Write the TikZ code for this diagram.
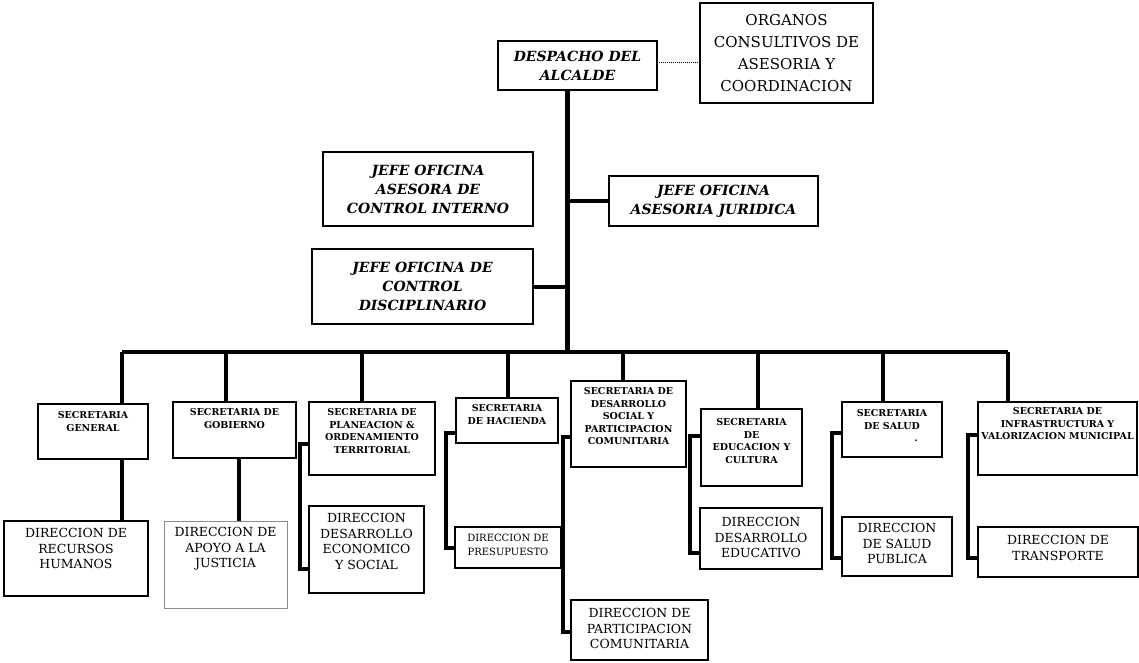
\documentclass[tikz,border=0pt]{standalone}
\usepackage{fontspec}
\setmainfont{DejaVu Serif}
\newcommand{\tbox}[4]{\parbox[c][#2pt][t]{#1pt}{\centering\vspace*{#3pt}#4\par}}
\newcommand{\cbox}[3]{\parbox[c][#2pt][c]{#1pt}{\centering #3\par}}
\newcommand{\secf}{\fontsize{9.5}{12.6}\selectfont\bfseries}
\newcommand{\dirf}{\fontsize{12.5}{15.5}\selectfont}
\newcommand{\jefef}{\fontsize{14}{19}\selectfont\bfseries\itshape}
\newcommand{\orgf}{\fontsize{15}{22}\selectfont}
\begin{document}
\begin{tikzpicture}[x=1pt,y=-1pt,
  box/.style={draw, line width=1.6pt, inner sep=0pt, outer sep=0pt},
  lightbox/.style={draw=black!45, line width=0.9pt, inner sep=0pt, outer sep=0pt},
  conn/.style={line width=4pt, line join=miter},
  trunk/.style={line width=5pt},
  dots/.style={line width=1pt, densely dotted}]
\useasboundingbox (0,0) rectangle (1139,662);

% top
\node[box] (despacho) at (577.5,65.5) {\cbox{159}{49}{\jefef DESPACHO DEL\\ALCALDE}};
\node[box] (organos) at (786.5,53) {\cbox{173}{100}{\orgf ORGANOS\\CONSULTIVOS DE\\ASESORIA Y\\COORDINACION}};
\node[box] (interno) at (428,189) {\cbox{210}{74}{\jefef JEFE OFICINA\\ASESORA DE\\CONTROL INTERNO}};
\node[box] (juridica) at (713.5,201) {\cbox{209}{50}{\jefef JEFE OFICINA\\ASESORIA JURIDICA}};
\node[box] (disciplinario) at (422.5,286.5) {\cbox{221}{75}{\jefef JEFE OFICINA DE\\CONTROL\\DISCIPLINARIO}};

% secretarias
\node[box] (secgeneral) at (93,431.5) {\tbox{110}{55}{7.5}{\secf SECRETARIA\\GENERAL}};
\node[box] (secgobierno) at (234.5,430) {\tbox{123}{56}{6.5}{\secf SECRETARIA DE\\GOBIERNO}};
\node[box] (secplaneacion) at (372,438.5) {\tbox{126}{73}{6.5}{\secf SECRETARIA DE\\PLANEACION \&\\ORDENAMIENTO\\TERRITORIAL}};
\node[box] (sechacienda) at (507,420.5) {\tbox{102}{45}{6.5}{\secf SECRETARIA\\DE HACIENDA}};
\node[box] (secdesarrollo) at (628.5,424) {\tbox{115}{86}{6.5}{\secf SECRETARIA DE\\DESARROLLO\\SOCIAL Y\\PARTICIPACION\\COMUNITARIA}};
\node[box] (seceducacion) at (751.5,447.5) {\tbox{101}{77}{9.5}{\secf SECRETARIA\\DE\\EDUCACION Y\\CULTURA}};
\node[box] (secsalud) at (892,429.5) {\tbox{100}{55}{7.5}{\secf SECRETARIA\\DE SALUD\\\hspace*{48pt}.}};
\node[box] (secinfra) at (1057.5,438.5) {\tbox{159}{73}{5.5}{\secf SECRETARIA DE\\INFRASTRUCTURA Y\\VALORIZACION MUNICIPAL}};

% direcciones
\node[box] (dirrrhh) at (76,558.5) {\tbox{144}{75}{7.5}{\dirf DIRECCION DE\\RECURSOS\\HUMANOS}};
\node[lightbox] (dirjusticia) at (225.5,564.5) {\tbox{123}{87}{6.5}{\dirf DIRECCION DE\\APOYO A LA\\JUSTICIA}};
\node[box] (direconomico) at (366.5,549.5) {\tbox{115}{87}{7.5}{\dirf DIRECCION\\DESARROLLO\\ECONOMICO\\Y SOCIAL}};
\node[box] (dirpresupuesto) at (508,547.5) {\tbox{106}{41}{7.4}{\fontsize{10}{14}\selectfont DIRECCION DE\\PRESUPUESTO}};
\node[box] (dirparticipacion) at (639.5,630) {\tbox{137}{60}{8.5}{\dirf DIRECCION DE\\PARTICIPACION\\COMUNITARIA}};
\node[box] (direducativo) at (761,538.5) {\tbox{122}{61}{9.5}{\dirf DIRECCION\\DESARROLLO\\EDUCATIVO}};
\node[box] (dirsalud) at (897,546.5) {\tbox{110}{59}{6.5}{\dirf DIRECCION\\DE SALUD\\PUBLICA}};
\node[box] (dirtransporte) at (1058,552) {\tbox{160}{50}{8.5}{\dirf DIRECCION DE\\TRANSPORTE}};

% bus coordinates
\coordinate (tk) at (567,352);
\coordinate (b1) at (122,352);
\coordinate (b2) at (226,352);
\coordinate (b3) at (362,352);
\coordinate (b4) at (508,352);
\coordinate (b5) at (623,352);
\coordinate (b6) at (758,352);
\coordinate (b7) at (883,352);
\coordinate (b8) at (1008,352);
\coordinate (g2) at (239,0);

% trunk and side links
\draw[trunk] (despacho.south -| tk) -- (tk);
\draw[dots] ([yshift=3.5pt]despacho.east) -- ([yshift=3.5pt]despacho.east -| organos.west);
\draw[conn] (juridica.west -| tk) -- (juridica.west);
\draw[conn] (disciplinario.east -| tk) -- (disciplinario.east);

% bus
\draw[conn] (b1) -- (b8);
\draw[conn] (b1) -- (b1 |- secgeneral.north);
\draw[conn] (b2) -- (b2 |- secgobierno.north);
\draw[conn] (b3) -- (b3 |- secplaneacion.north);
\draw[conn] (b4) -- (b4 |- sechacienda.north);
\draw[conn] (b5) -- (b5 |- secdesarrollo.north);
\draw[conn] (b6) -- (b6 |- seceducacion.north);
\draw[conn] (b7) -- (b7 |- secsalud.north);
\draw[conn] (b8) -- (b8 |- secinfra.north);

% secretaria -> direccion
\draw[conn] (b1 |- secgeneral.south) -- (b1 |- dirrrhh.north);
\draw[conn] (g2 |- secgobierno.south) -- (g2 |- dirjusticia.north);
\draw[conn] ([yshift=-5.5pt]secplaneacion.west) -- ++(-9,0) |- ([yshift=-19.5pt]direconomico.west);
\draw[conn] ([yshift=-12.5pt]sechacienda.west) -- ++(-10,0) |- (dirpresupuesto.west);
\draw[conn] ([yshift=-13pt]secdesarrollo.west) -- ++(-8,0) |- ([yshift=-2pt]dirparticipacion.west);
\draw[conn] ([yshift=11.5pt]seceducacion.west) -- ++(-11,0) |- ([yshift=-14.5pt]direducativo.west);
\draw[conn] ([yshift=-3.5pt]secsalud.west) -- ++(-10,0) |- ([yshift=-11.5pt]dirsalud.west);
\draw[conn] ([yshift=3.5pt]secinfra.west) -- ++(-10,0) |- ([yshift=-6pt]dirtransporte.west);
\end{tikzpicture}
\end{document}
